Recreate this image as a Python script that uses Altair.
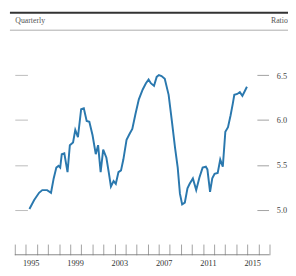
import altair as alt
import pandas as pd

years = [1995.32, 1995.75, 1996.19, 1996.48, 1996.92, 1997.27, 1997.51, 1997.75, 1997.95, 1998.10,
         1998.24, 1998.47, 1998.76, 1998.97, 1999.26, 1999.46, 1999.70, 1999.99, 2000.23, 2000.49,
         2000.73, 2001.02, 2001.31, 2001.52, 2001.75, 2001.98, 2002.27, 2002.48, 2002.68, 2002.92,
         2003.12, 2003.36, 2003.59, 2003.80, 2004.09, 2004.38, 2004.61, 2004.90, 2005.20, 2005.55,
         2005.84, 2006.08, 2006.28, 2006.57, 2006.81, 2007.01, 2007.25, 2007.54, 2007.89, 2008.18,
         2008.47, 2008.71, 2008.91, 2009.11, 2009.35, 2009.59, 2009.79, 2010.08, 2010.38, 2010.67,
         2010.96, 2011.25, 2011.39, 2011.63, 2011.83, 2012.04, 2012.32, 2012.55, 2012.78, 2013.01,
         2013.25, 2013.48, 2013.68, 2013.82, 2014.09, 2014.32, 2014.55, 2014.76, 2014.96]
ratio = [5.01, 5.11, 5.19, 5.22, 5.22, 5.19, 5.35, 5.47, 5.49, 5.47,
         5.62, 5.63, 5.42, 5.72, 5.75, 5.89, 5.81, 6.12, 6.13, 5.99,
         5.98, 5.83, 5.62, 5.72, 5.42, 5.67, 5.58, 5.42, 5.26, 5.32,
         5.29, 5.42, 5.44, 5.56, 5.78, 5.85, 5.90, 6.07, 6.23, 6.34,
         6.41, 6.45, 6.41, 6.38, 6.48, 6.50, 6.49, 6.46, 6.28, 5.99,
         5.69, 5.47, 5.18, 5.06, 5.08, 5.24, 5.29, 5.35, 5.22, 5.36,
         5.47, 5.48, 5.45, 5.20, 5.35, 5.40, 5.41, 5.56, 5.48, 5.87,
         5.92, 6.05, 6.18, 6.28, 6.29, 6.31, 6.27, 6.32, 6.37]

tick_years = list(range(1994, 2018))
label_years = [1995, 1999, 2003, 2007, 2011, 2015]
y_ticks = [5.0, 5.5, 6.0, 6.5]
x_domain = [1994, 2017]
y_domain = [4.5, 7.0]

df = pd.DataFrame({"t": years, "v": ratio})
base_df = pd.DataFrame({"a": [x_domain[0]], "b": [x_domain[1]], "y": [y_domain[0]]})

W, H = 262, 231
FONT = "Liberation Serif"
xscale = alt.Scale(domain=x_domain, nice=False, zero=False)
yscale = alt.Scale(domain=y_domain, nice=False, zero=False)

label_list = ",".join(str(y) for y in label_years)
label_expr = f"indexof([{label_list}], datum.value) >= 0 ? '' + datum.value : ''"

line = alt.Chart(df).mark_line(color="#2a78ae", strokeWidth=2).encode(
    x=alt.X("t:Q", scale=xscale, axis=alt.Axis(
        orient="bottom", values=tick_years, offset=-11, tickSize=11, tickWidth=0.8,
        tickColor="#888", domain=False, grid=False, labelExpr=label_expr,
        labelOverlap=False, labelFlush=False, labelOffset=5, labelPadding=4,
        labelFont=FONT, labelFontSize=8.5, labelColor="#333", title=None)),
    y=alt.Y("v:Q", scale=yscale, axis=alt.Axis(
        orient="left", values=y_ticks, offset=-13, tickSize=13, tickWidth=0.8,
        tickColor="#aaa", domain=False, grid=False, labels=False,
        title="Quarterly", titleAngle=0, titleAlign="left", titleBaseline="middle",
        titleX=-13, titleY=-10, titleFont=FONT, titleFontSize=8,
        titleFontWeight="normal", titleColor="#555")),
)

right = alt.Chart(df).mark_line(strokeOpacity=0).encode(
    x=alt.X("t:Q", scale=xscale, axis=None),
    y=alt.Y("v:Q", scale=yscale, axis=alt.Axis(
        orient="right", values=y_ticks, offset=-13, tickSize=12, tickWidth=0.8,
        tickColor="#888", domain=False, grid=False, format=".1f", labelPadding=8,
        labelFont=FONT, labelFontSize=8.5, labelColor="#444",
        title="Ratio", titleAngle=0, titleAlign="left", titleBaseline="middle",
        titleX=14, titleY=-10, titleFont=FONT, titleFontSize=8,
        titleFontWeight="normal", titleColor="#555")),
)

baseline = alt.Chart(base_df).mark_rule(color="#777", strokeWidth=0.9).encode(
    x=alt.X("a:Q", scale=xscale, axis=None),
    x2="b:Q",
    y=alt.Y("y:Q", scale=yscale, axis=None),
)

top_thin = alt.Chart(base_df).mark_rule(color="#aaa", strokeWidth=1).encode(
    x=alt.value(-5), x2=alt.value(285), y=alt.value(0)
)
top_thick = alt.Chart(base_df).mark_rule(color="#333", strokeWidth=2).encode(
    x=alt.value(-5), x2=alt.value(285), y=alt.value(-18)
)

chart = alt.layer(top_thick, top_thin, baseline, right, line).resolve_axis(
    x="independent", y="independent"
).properties(
    width=W, height=H,
    autosize=alt.AutoSizeParams(type="none"),
    padding={"left": 7, "top": 19, "right": 19, "bottom": 18},
).configure_view(stroke=None)

chart.save("out.html", embed_options={"renderer": "svg", "actions": False})
